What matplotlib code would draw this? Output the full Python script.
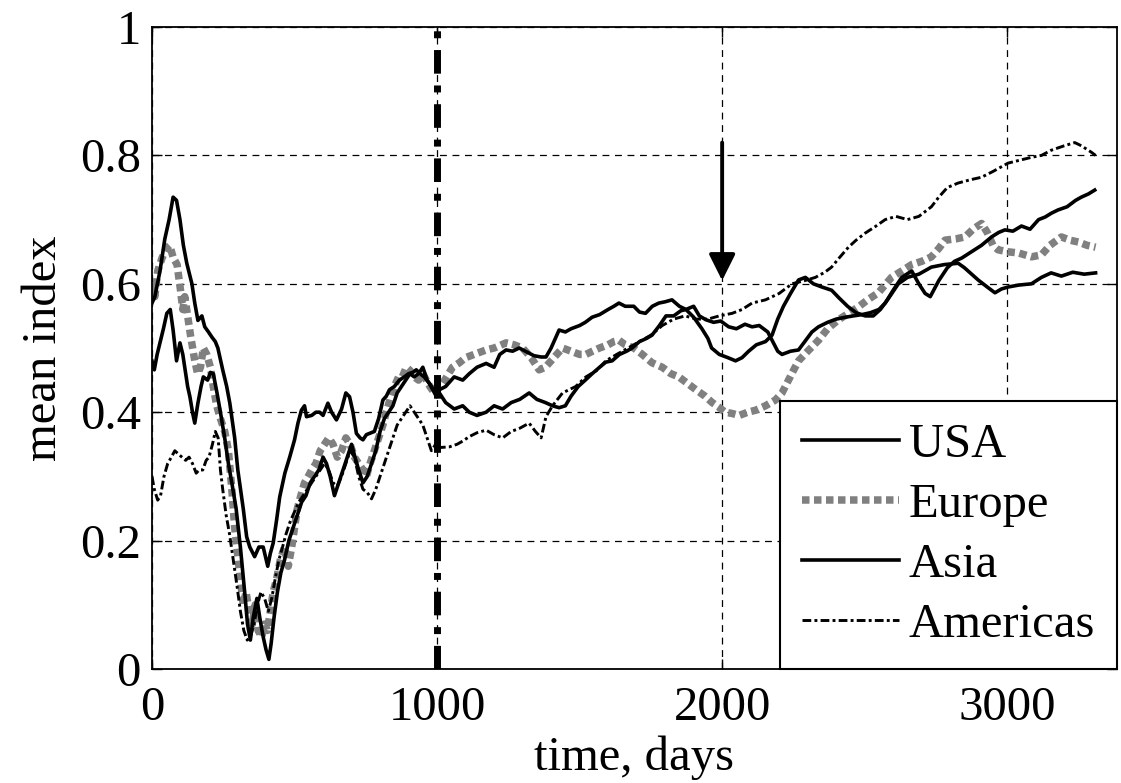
import matplotlib
matplotlib.use("Agg")
import matplotlib.pyplot as plt

plt.rcParams['font.family'] = ['Liberation Serif', 'DejaVu Serif']

# ---- series (time in days, mean index) ----
usa_t = [0, 10, 28, 45, 60, 74, 86, 98, 110, 122, 140, 150, 161, 175, 185, 198, 210, 222, 231, 248,
         262, 273, 290, 301, 320, 332, 343, 360, 375, 390, 398, 406, 415, 425, 437, 448, 466, 483, 500, 512,
         524, 535, 542, 560, 575, 588, 600, 617, 630, 647, 665, 680, 693, 705, 717, 730, 740, 752, 763, 780,
         795, 810, 822, 833, 850, 868, 885, 900, 915, 927, 940, 955, 973, 985, 998,
         1008, 1030, 1060, 1090, 1113, 1140, 1172, 1200, 1220, 1242, 1265, 1288, 1310, 1340, 1365, 1382, 1400,
         1428, 1450, 1470, 1500, 1520, 1544, 1570, 1600, 1620, 1638, 1660, 1690, 1710, 1731, 1755, 1778, 1800,
         1824, 1850, 1873, 1900, 1920, 1943, 1970, 1995, 2023, 2050, 2080, 2105, 2130, 2160, 2175, 2195, 2210,
         2240, 2268, 2290, 2315, 2338, 2370, 2400, 2433, 2460, 2490, 2520, 2550, 2572, 2600, 2630, 2665, 2690,
         2712, 2730, 2760, 2790, 2815, 2840, 2875, 2910, 2945, 2970, 2992, 3020, 3050, 3080, 3110, 3133, 3155,
         3178, 3210, 3240, 3260, 3285, 3307]
usa_v = [0.57, 0.58, 0.62, 0.67, 0.70, 0.735, 0.73, 0.70, 0.66, 0.632, 0.60, 0.57, 0.543, 0.55, 0.533, 0.525,
         0.517, 0.51, 0.50, 0.466, 0.44, 0.414, 0.36, 0.31, 0.25, 0.206, 0.19, 0.175, 0.19, 0.19, 0.175, 0.16,
         0.18, 0.196, 0.232, 0.268, 0.305, 0.33, 0.357, 0.383, 0.403, 0.41, 0.393, 0.395, 0.40, 0.40, 0.395,
         0.414, 0.40, 0.388, 0.405, 0.43, 0.424, 0.40, 0.367, 0.36, 0.357, 0.365, 0.367, 0.37, 0.39, 0.419,
         0.425, 0.435, 0.44, 0.45, 0.455, 0.46, 0.462, 0.466, 0.46, 0.455, 0.445, 0.435, 0.424,
         0.435, 0.44, 0.455, 0.45, 0.46, 0.47, 0.476, 0.47, 0.49, 0.497, 0.495, 0.50, 0.495, 0.488, 0.486, 0.486,
         0.50, 0.528, 0.525, 0.53, 0.535, 0.54, 0.548, 0.552, 0.56, 0.565, 0.57, 0.565, 0.565, 0.556, 0.554,
         0.565, 0.57, 0.572, 0.575, 0.565, 0.56, 0.565, 0.55, 0.544, 0.54, 0.542, 0.533, 0.53, 0.537, 0.533,
         0.535, 0.525, 0.512, 0.495, 0.49, 0.495, 0.497, 0.51, 0.525, 0.533, 0.54, 0.545, 0.548, 0.55, 0.552,
         0.555, 0.56, 0.57, 0.59, 0.61, 0.62, 0.60, 0.585, 0.58, 0.605, 0.625, 0.635, 0.64, 0.65, 0.66, 0.673,
         0.68, 0.684, 0.682, 0.69, 0.685, 0.70, 0.704, 0.71, 0.715, 0.72, 0.73, 0.735, 0.74, 0.746]

europe_t = [0, 10, 20, 35, 50, 62, 75, 88, 100, 108, 115, 125, 135, 150, 160, 170, 180, 192, 205, 215, 227,
            240, 255, 268, 280, 290, 300, 310, 320, 330, 340, 352, 362, 372, 385, 395, 405, 415, 425, 437, 450,
            465, 478, 490, 500, 510, 522, 535, 548, 560, 575, 590, 605, 620, 635, 650, 665, 680, 695, 710, 725,
            740, 752, 765, 780, 795, 810, 822, 835, 850, 865, 878, 892, 905, 920, 935, 950, 962, 975, 990, 1000,
            1020, 1054, 1078, 1100, 1130, 1172, 1200, 1242, 1270, 1300, 1330, 1358, 1380, 1400, 1420, 1440, 1470,
            1500, 1522, 1545, 1570, 1600, 1620, 1638, 1660, 1690, 1720, 1754, 1790, 1820, 1848, 1878, 1908, 1940,
            1965, 1988, 2010, 2035, 2060, 2090, 2117, 2152, 2187, 2210, 2233, 2250, 2268, 2300, 2338, 2370, 2408,
            2440, 2478, 2510, 2548, 2575, 2594, 2630, 2665, 2700, 2734, 2760, 2782, 2820, 2852, 2880, 2910, 2930,
            2950, 2968, 3000, 3040, 3085, 3120, 3150, 3190, 3220, 3250, 3280, 3310]
europe_v = [0.60, 0.58, 0.62, 0.64, 0.655, 0.66, 0.64, 0.63, 0.59, 0.56, 0.58, 0.55, 0.52, 0.48, 0.46, 0.47,
            0.50, 0.49, 0.47, 0.44, 0.41, 0.39, 0.37, 0.34, 0.28, 0.22, 0.18, 0.14, 0.10, 0.12, 0.09, 0.07, 0.10,
            0.06, 0.05, 0.07, 0.06, 0.09, 0.12, 0.14, 0.17, 0.19, 0.16, 0.19, 0.22, 0.25, 0.27, 0.29, 0.30, 0.31,
            0.32, 0.34, 0.35, 0.36, 0.35, 0.33, 0.34, 0.36, 0.35, 0.33, 0.32, 0.31, 0.30, 0.32, 0.34, 0.36, 0.38,
            0.40, 0.42, 0.44, 0.455, 0.455, 0.47, 0.465, 0.455, 0.45, 0.46, 0.45, 0.44, 0.43, 0.44,
            0.445, 0.47, 0.477, 0.485, 0.49, 0.497, 0.50, 0.508, 0.505, 0.50, 0.485, 0.466, 0.47, 0.48, 0.49, 0.50,
            0.495, 0.49, 0.49, 0.495, 0.50, 0.505, 0.51, 0.512, 0.505, 0.50, 0.49, 0.477, 0.47, 0.46, 0.455, 0.445,
            0.435, 0.425, 0.415, 0.408, 0.40, 0.398, 0.395, 0.40, 0.403, 0.41, 0.419, 0.43, 0.45, 0.465, 0.48,
            0.495, 0.512, 0.53, 0.544, 0.553, 0.564, 0.575, 0.586, 0.60, 0.61, 0.62, 0.63, 0.635, 0.642, 0.655,
            0.668, 0.67, 0.673, 0.685, 0.694, 0.68, 0.66, 0.653, 0.65, 0.648, 0.642, 0.645, 0.66, 0.673, 0.668,
            0.665, 0.66, 0.657]

asia_t = [0, 8, 18, 28, 40, 52, 64, 74, 86, 98, 108, 116, 125, 133, 142, 150, 161, 172, 180, 195, 205, 215,
          228, 240, 255, 268, 280, 295, 310, 325, 335, 345, 355, 368, 378, 390, 400, 410, 418, 428, 440, 452,
          465, 480, 495, 510, 525, 540, 555, 570, 585, 600, 612, 625, 640, 655, 670, 685, 700, 712, 725, 740,
          755, 770, 785, 800, 815, 830, 845, 860, 875, 890, 905, 920, 935, 950, 965, 980, 995, 1008,
          1030, 1060, 1090, 1113, 1140, 1172, 1200, 1230, 1260, 1290, 1323, 1350, 1380, 1405, 1428, 1450, 1470,
          1495, 1520, 1544, 1570, 1592, 1614, 1640, 1665, 1684, 1710, 1735, 1754, 1780, 1803, 1830, 1855, 1873,
          1900, 1929, 1950, 1963, 1990, 2020, 2047, 2070, 2093, 2120, 2152, 2175, 2195, 2215, 2240, 2268, 2292,
          2320, 2350, 2384, 2410, 2440, 2470, 2502, 2530, 2555, 2580, 2618, 2650, 2690, 2734, 2780, 2828, 2850,
          2875, 2898, 2930, 2957, 2980, 3003, 3040, 3085, 3120, 3154, 3190, 3230, 3270, 3310]
asia_v = [0.48, 0.466, 0.49, 0.508, 0.53, 0.554, 0.56, 0.528, 0.48, 0.508, 0.49, 0.466, 0.44, 0.424, 0.40,
          0.383, 0.414, 0.44, 0.455, 0.45, 0.462, 0.46, 0.43, 0.40, 0.36, 0.32, 0.29, 0.25, 0.19, 0.12, 0.07,
          0.045, 0.08, 0.11, 0.08, 0.05, 0.03, 0.015, 0.04, 0.08, 0.12, 0.15, 0.17, 0.20, 0.22, 0.24, 0.26, 0.27,
          0.29, 0.30, 0.31, 0.33, 0.32, 0.30, 0.27, 0.29, 0.31, 0.33, 0.35, 0.33, 0.31, 0.29, 0.30, 0.32, 0.34,
          0.37, 0.39, 0.40, 0.41, 0.43, 0.44, 0.45, 0.46, 0.455, 0.46, 0.47, 0.45, 0.44, 0.43, 0.43,
          0.415, 0.405, 0.41, 0.40, 0.395, 0.40, 0.41, 0.405, 0.415, 0.42, 0.43, 0.42, 0.415, 0.41, 0.407, 0.41,
          0.425, 0.44, 0.45, 0.46, 0.47, 0.478, 0.48, 0.49, 0.495, 0.50, 0.51, 0.515, 0.52, 0.535, 0.55, 0.55,
          0.558, 0.56, 0.548, 0.53, 0.515, 0.50, 0.49, 0.485, 0.48, 0.485, 0.495, 0.505, 0.51, 0.52, 0.545,
          0.565, 0.585, 0.606, 0.61, 0.60, 0.595, 0.59, 0.578, 0.565, 0.555, 0.55, 0.55, 0.56, 0.575, 0.60, 0.61,
          0.615, 0.626, 0.63, 0.632, 0.625, 0.615, 0.606, 0.595, 0.586, 0.592, 0.595, 0.598, 0.60, 0.61, 0.617,
          0.612, 0.618, 0.615, 0.617]

americas_t = [0, 8, 20, 30, 42, 55, 68, 80, 92, 105, 118, 130, 142, 155, 165, 178, 190, 200, 212, 222, 232,
              240, 248, 260, 272, 285, 298, 310, 322, 334, 345, 358, 370, 382, 395, 408, 420, 432, 445, 458, 470,
              485, 500, 515, 530, 545, 560, 575, 590, 605, 620, 635, 650, 665, 680, 695, 710, 725, 740, 755, 770,
              785, 800, 815, 830, 845, 860, 875, 890, 905, 920, 935, 950, 965, 980, 995, 1010, 1043, 1070, 1090,
              1113, 1140, 1172, 1200, 1230, 1260, 1290, 1323, 1345, 1365, 1382, 1405, 1440, 1486, 1522, 1560,
              1592, 1630, 1670, 1710, 1750, 1790, 1830, 1870, 1910, 1950, 1990, 2035, 2070, 2105, 2152, 2200,
              2245, 2290, 2327, 2360, 2384, 2410, 2443, 2470, 2502, 2540, 2572, 2610, 2650, 2690, 2734, 2760,
              2790, 2828, 2870, 2910, 2950, 3003, 3040, 3085, 3120, 3154, 3200, 3237, 3260, 3295, 3310]
americas_v = [0.30, 0.28, 0.263, 0.27, 0.30, 0.32, 0.33, 0.34, 0.335, 0.33, 0.325, 0.33, 0.32, 0.305, 0.31,
              0.31, 0.325, 0.33, 0.35, 0.37, 0.36, 0.31, 0.28, 0.24, 0.21, 0.17, 0.13, 0.09, 0.06, 0.045, 0.05,
              0.07, 0.10, 0.12, 0.11, 0.09, 0.11, 0.14, 0.17, 0.19, 0.21, 0.23, 0.245, 0.26, 0.27, 0.28, 0.29,
              0.30, 0.31, 0.32, 0.31, 0.29, 0.285, 0.30, 0.32, 0.34, 0.33, 0.30, 0.28, 0.275, 0.265, 0.28, 0.30,
              0.32, 0.34, 0.36, 0.38, 0.39, 0.40, 0.41, 0.40, 0.39, 0.38, 0.36, 0.34, 0.35, 0.345, 0.346, 0.35,
              0.355, 0.362, 0.368, 0.372, 0.365, 0.36, 0.37, 0.375, 0.383, 0.37, 0.36, 0.393, 0.41, 0.43, 0.44,
              0.455, 0.465, 0.48, 0.49, 0.50, 0.51, 0.52, 0.535, 0.545, 0.55, 0.545, 0.545, 0.55, 0.554, 0.56,
              0.57, 0.575, 0.585, 0.60, 0.605, 0.61, 0.618, 0.626, 0.64, 0.657, 0.668, 0.679, 0.69, 0.70, 0.705,
              0.70, 0.705, 0.72, 0.735, 0.75, 0.757, 0.762, 0.766, 0.775, 0.788, 0.792, 0.797, 0.80, 0.808, 0.815,
              0.82, 0.815, 0.805, 0.80]

x_ticks = [0, 1000, 2000, 3000]
x_tick_labels = ['0', '1000', '2000', '3000']
y_ticks = [0, 0.2, 0.4, 0.6, 0.8, 1.0]
y_tick_labels = ['0', '0.2', '0.4', '0.6', '0.8', '1']
split_day = 1000
arrow_day = 2000
arrow_from, arrow_to = 0.82, 0.605

fig = plt.figure(figsize=(11.21, 7.83), dpi=100)
ax = fig.add_axes([0.1356, 0.1456, 0.8608, 0.8199])

ax.plot(usa_t, usa_v, color='black', lw=2.6, label='USA', zorder=3)
ax.plot(europe_t, europe_v, color='#808080', lw=5.4, linestyle=(0, (1.0, 0.6)),
        label='Europe', zorder=2)
ax.plot(asia_t, asia_v, color='black', lw=2.6, label='Asia', zorder=3)
ax.plot(americas_t, americas_v, color='black', lw=2.1, linestyle=(0, (3.0, 1.1, 1.0, 1.1)),
        label='Americas', zorder=3)

ax.axvline(split_day, color='black', lw=5.0, linestyle=(0, (3.4, 1.7, 1.0, 1.7)), zorder=4)
ax.annotate('', xy=(arrow_day, arrow_to), xytext=(arrow_day, arrow_from),
            arrowprops=dict(arrowstyle='-|>', lw=2.8, color='black', mutation_scale=40,
                            shrinkA=0, shrinkB=0), zorder=5)

ax.set_xlim(0, 3385)
ax.set_ylim(0, 1)
ax.set_xticks(x_ticks)
ax.set_xticklabels(x_tick_labels)
ax.set_yticks(y_ticks)
ax.set_yticklabels(y_tick_labels)
ax.grid(True, color='black', lw=0.9, linestyle=(0, (5.5, 4.5)))
ax.set_axisbelow(True)

ax.tick_params(direction='in', length=7, width=1, labelsize=35, top=True, right=True,
               colors='black')
ax.tick_params(axis='x', pad=12)
ax.tick_params(axis='y', pad=8)
for s in ax.spines.values():
    s.set_linewidth(1.3)
    s.set_color('black')

ax.set_xlabel('time, days', fontsize=35, labelpad=4)
ax.set_ylabel('mean index', fontsize=35, labelpad=10)

leg = ax.legend(loc='lower right', fontsize=35, frameon=True, fancybox=False,
                borderaxespad=0, handlelength=2.0, handletextpad=0.2, labelspacing=0.33,
                borderpad=0.45)
leg.get_frame().set_edgecolor('black')
leg.get_frame().set_linewidth(1.5)
leg.get_frame().set_alpha(1)

fig.savefig('out.png', dpi=100)
